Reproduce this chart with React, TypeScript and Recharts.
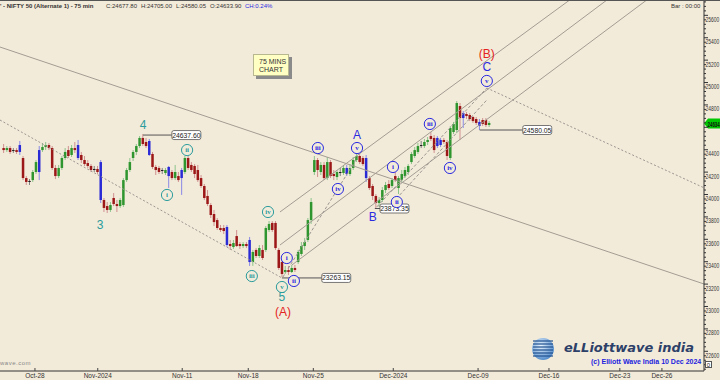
import React from 'react';
import { ComposedChart, Bar, XAxis, YAxis, ReferenceLine, ReferenceDot } from 'recharts';

// ---- 75-min OHLC bars (bar index 0 .. 150) ----
const opens = [
  24415, 24397, 24415, 24389, 24397, 24442, 24326, 24147, 24112, 24129,
  24201, 24201, 24397, 24424, 24442, 24415, 24237, 24165, 24237, 24326,
  24397, 24353, 24415, 24442, 24353, 24308, 24281, 24255, 24219, 24228,
  24290, 23951, 23897, 23862, 23969, 23915, 23897, 23906, 24129, 24219,
  24326, 24380, 24433, 24505, 24469, 24478, 24362, 24246, 24237, 24219,
  24192, 24246, 24201, 24147, 24165, 24219, 24201, 24326, 24264, 24255,
  24219, 24147, 24076, 23987, 23906, 23826, 23772, 23701, 23701, 23710,
  23558, 23531, 23629, 23558, 23540, 23558, 23594, 23397, 23505, 23451,
  23505, 23505, 23683, 23746, 23746, 23505, 23397, 23308, 23326, 23308,
  23344, 23397, 23469, 23540, 23594, 23772, 24201, 24308, 24201, 24264,
  24147, 24290, 24183, 24156, 24192, 24192, 24237, 24183, 24237, 24308,
  24344, 24326, 24326, 24147, 24076, 23987, 23924, 23951, 24040, 24094,
  24076, 24165, 24058, 24129, 24165, 24201, 24290, 24344, 24380, 24433,
  24433, 24469, 24522, 24505, 24505, 24487, 24487, 24469, 24326, 24558,
  24576, 24790, 24728, 24719, 24710, 24692, 24674, 24612, 24665, 24665,
  24621,
];
const highs = [
  24451, 24433, 24433, 24415, 24415, 24478, 24344, 24165, 24138, 24219,
  24308, 24433, 24460, 24469, 24460, 24433, 24264, 24264, 24344, 24415,
  24433, 24442, 24469, 24487, 24380, 24344, 24308, 24272, 24255, 24255,
  24308, 23969, 23933, 23933, 24013, 23951, 23969, 24147, 24237, 24326,
  24397, 24451, 24522, 24540, 24505, 24496, 24380, 24264, 24255, 24237,
  24237, 24255, 24219, 24264, 24201, 24237, 24344, 24344, 24290, 24272,
  24264, 24174, 24094, 24040, 23924, 23862, 23790, 23728, 23728, 23728,
  23594, 23594, 23683, 23576, 23576, 23576, 23621, 23505, 23522, 23549,
  23549, 23719, 23763, 23763, 23763, 23522, 23433, 23362, 23362, 23371,
  23371, 23505, 23576, 23612, 23790, 23969, 24344, 24326, 24290, 24290,
  24335, 24308, 24219, 24219, 24237, 24264, 24264, 24272, 24335, 24371,
  24362, 24344, 24353, 24165, 24094, 24004, 23978, 24067, 24112, 24129,
  24147, 24201, 24165, 24219, 24246, 24272, 24380, 24424, 24460, 24478,
  24496, 24514, 24558, 24531, 24522, 24505, 24505, 24487, 24612, 24648,
  24835, 24817, 24746, 24737, 24728, 24701, 24692, 24674, 24683, 24683,
  24656,
];
const lows = [
  24371, 24380, 24362, 24371, 24362, 24353, 24129, 24085, 24085, 24112,
  24183, 24129, 24380, 24397, 24397, 24219, 24138, 24147, 24219, 24308,
  24326, 24335, 24371, 24308, 24281, 24255, 24237, 24201, 24201, 24183,
  23924, 23844, 23835, 23844, 23897, 23844, 23880, 23889, 24112, 24201,
  24299, 24353, 24415, 24433, 24415, 24344, 24228, 24174, 24183, 24183,
  24174, 24058, 24129, 24129, 24112, 23996, 24183, 24219, 24201, 24147,
  24112, 24058, 23951, 23897, 23790, 23719, 23683, 23665, 23647, 23531,
  23505, 23514, 23531, 23514, 23522, 23522, 23362, 23362, 23433, 23433,
  23415, 23487, 23665, 23665, 23505, 23326, 23263, 23290, 23281, 23299,
  23308, 23380, 23451, 23505, 23576, 23737, 24174, 24156, 24174, 24129,
  24129, 24147, 24129, 24129, 24165, 24174, 24165, 24165, 24219, 24290,
  24272, 24255, 24112, 24040, 23951, 23871, 23889, 23933, 24013, 24040,
  24058, 24112, 24004, 24112, 24147, 24174, 24272, 24326, 24362, 24415,
  24415, 24442, 24478, 24371, 24415, 24424, 24451, 24308, 24308, 24540,
  24549, 24487, 24594, 24674, 24656, 24639, 24621, 24576, 24612, 24603,
  24603,
];
const closes = [
  24397, 24415, 24380, 24397, 24380, 24380, 24147, 24112, 24121, 24201,
  24290, 24397, 24424, 24442, 24415, 24237, 24165, 24237, 24326, 24380,
  24344, 24415, 24397, 24326, 24308, 24272, 24255, 24219, 24228, 24201,
  23951, 23880, 23862, 23906, 23915, 23897, 23951, 24129, 24219, 24290,
  24380, 24433, 24505, 24451, 24433, 24353, 24246, 24219, 24201, 24210,
  24219, 24165, 24147, 24201, 24129, 24147, 24326, 24237, 24219, 24183,
  24129, 24076, 23969, 23915, 23817, 23754, 23701, 23683, 23674, 23549,
  23540, 23567, 23540, 23540, 23558, 23540, 23397, 23487, 23451, 23522,
  23433, 23701, 23737, 23683, 23522, 23344, 23290, 23326, 23308, 23344,
  23326, 23487, 23540, 23576, 23772, 23933, 24308, 24219, 24264, 24147,
  24290, 24165, 24165, 24201, 24201, 24237, 24183, 24237, 24308, 24344,
  24290, 24272, 24147, 24058, 23987, 23924, 23951, 24040, 24085, 24058,
  24129, 24129, 24147, 24183, 24219, 24255, 24362, 24397, 24433, 24442,
  24469, 24487, 24496, 24397, 24433, 24442, 24469, 24344, 24594, 24630,
  24817, 24683, 24683, 24701, 24674, 24656, 24639, 24648, 24630, 24621,
  24639,
];
// bars the source software paints blue
const blueBars = [5, 11, 23, 30, 45, 51, 55, 69, 76, 106, 112, 134, 135, 142, 147];

// ---- axes ----
const xTickPos = [9.8, 29.2, 55.3, 75.7, 95.8, 120.5, 146.7, 168.6, 190.5, 203.5];
const xTickLabels = ['Oct-28', 'Nov-2024', 'Nov-11', 'Nov-18', 'Nov-25', 'Dec-2024', 'Dec-09', 'Dec-16', 'Dec-23', 'Dec-26'];
// 24600 sits under the last-price tag, as in the source
const yTickLabels = [22600, 22800, 23000, 23200, 23400, 23600, 23800, 24000, 24200, 24400, 24800, 25000, 25200, 25400, 25600];
const lastPrice = 24633.9;

// ---- annotations (bar index, price) ----
const plainLabels = [
  { t: '4', i: 43.2, p: 24621, c: 'teal' },
  { t: '3', i: 29.9, p: 23728, c: 'teal' },
  { t: '5', i: 86.1, p: 23085, c: 'teal' },
  { t: '(A)', i: 86.4, p: 22951, c: 'red' },
  { t: 'A', i: 109.3, p: 24540, c: 'blue' },
  { t: 'B', i: 114.2, p: 23808, c: 'blue' },
  { t: 'C', i: 149.4, p: 25139, c: 'blue' },
  { t: '(B)', i: 149.4, p: 25255, c: 'red' },
];
const circleLabels = [
  { t: 'i', i: 50.6, p: 23996, c: 'teal' },
  { t: 'ii', i: 56.8, p: 24397, c: 'teal' },
  { t: 'iii', i: 76.8, p: 23272, c: 'teal' },
  { t: 'iv', i: 81.8, p: 23844, c: 'teal' },
  { t: 'v', i: 86.1, p: 23174, c: 'teal' },
  { t: 'i', i: 87.6, p: 23433, c: 'blue' },
  { t: 'ii', i: 89.8, p: 23228, c: 'blue' },
  { t: 'iii', i: 97.2, p: 24415, c: 'blue' },
  { t: 'iv', i: 103.4, p: 24049, c: 'blue' },
  { t: 'v', i: 109.3, p: 24415, c: 'blue' },
  { t: 'i', i: 120.4, p: 24246, c: 'blue' },
  { t: 'ii', i: 121.6, p: 23933, c: 'blue' },
  { t: 'iii', i: 131.8, p: 24630, c: 'blue' },
  { t: 'iv', i: 138.0, p: 24237, c: 'blue' },
  { t: 'v', i: 149.4, p: 25014, c: 'blue' },
];
const trendLines = [
  { a: [85.5, 23844], b: [175.0, 25737], k: 'solid' },
  { a: [85.5, 23549], b: [186.5, 25737], k: 'solid' },
  { a: [89.2, 23371], b: [198.8, 25737], k: 'solid' },
  { a: [-1, 25317], b: [216.5, 23201], k: 'solid' },
  { a: [-1, 24665], b: [86.1, 23255], k: 'dot' },
  { a: [149.4, 24951], b: [216.5, 24060], k: 'dot' },
  { a: [86.4, 23263], b: [109.3, 24326], k: 'dash' },
  { a: [115.4, 23889], b: [149.4, 24951], k: 'dash' },
  { a: [122.5, 23996], b: [149.4, 24844], k: 'dash' },
];
const priceTags = [
  { t: '24637.60', a: 43.2, b: 52.1, p: 24531 },
  { t: '23263.15', a: 86.1, b: 98.4, p: 23255 },
  { t: '23873.35', a: 114.8, b: 116.4, p: 23875 },
  { t: '24580.05', a: 147.2, b: 160.5, p: 24576 },
];

const COLORS: Record<string, string> = { teal: '#2b9c9c', blue: '#2a2ae0', red: '#e32222' };
const FONT = '"Liberation Sans", Arial, sans-serif';

const data = opens.map((o, i) => ({
  i,
  o,
  h: highs[i],
  l: lows[i],
  c: closes[i],
  range: [lows[i], highs[i]],
}));

const Candle = (props: any) => {
  const { x, y, width, height, payload } = props;
  if (!payload || x == null) return null;
  const { o, h, l, c, i } = payload;
  const top = Math.min(y, y + height);
  const bot = Math.max(y, y + height);
  const span = h - l || 1;
  const py = (v: number) => top + ((h - v) / span) * (bot - top);
  const cx = x + width / 2;
  const d = c - o;
  let body = d > 0 ? '#2f962f' : '#9c1717';
  let wick = d > 0 ? '#8cc48c' : '#d09090';
  if (Math.abs(d) < 12) { body = '#1e1e1e'; wick = '#808080'; }
  if (blueBars.includes(i)) { body = '#2b2bd6'; wick = '#8a8ae6'; }
  const y1 = Math.min(py(o), py(c));
  const bh = Math.max(1, Math.abs(py(o) - py(c)));
  return (
    <g>
      <line x1={cx} x2={cx} y1={top} y2={bot} stroke={wick} strokeWidth={1} />
      <rect x={cx - 1.25} y={y1} width={2.5} height={bh} fill={body} />
    </g>
  );
};

const XTick = (props: any) => {
  const { x, y, payload } = props;
  const idx = xTickPos.indexOf(payload.value);
  return (
    <g>
      <line x1={x} x2={x} y1={y - 3} y2={y} stroke="#444" />
      <text x={x} y={y + 6.5} textAnchor="middle" fontSize={6.5} fontFamily={FONT} fill="#333">
        {xTickLabels[idx]}
      </text>
    </g>
  );
};

const YTick = (props: any) => {
  const { x, y, payload } = props;
  const v = payload.value;
  const major = v % 200 === 0;
  const labelled = yTickLabels.includes(v);
  return (
    <g>
      <line x1={x} x2={x + (major ? 4 : 2)} y1={y} y2={y} stroke="#333" />
      {labelled && (
        <text transform={`translate(${x + 1.5},${y + 6.5}) scale(0.66,1)`} fontSize={7.5} fontFamily={FONT} fill="#333">
          {v}
        </text>
      )}
    </g>
  );
};

const minorTicks: number[] = [];
for (let v = 22440; v <= 25720; v += 40) minorTicks.push(v);

const Globe = () => (
  <svg width={26} height={26} style={{ position: 'absolute', left: 530, top: 336 }}>
    <defs>
      <radialGradient id="gl" cx="40%" cy="35%" r="70%">
        <stop offset="0%" stopColor="#e8f4ff" />
        <stop offset="100%" stopColor="#4a86c8" />
      </radialGradient>
    </defs>
    <circle cx={13} cy={13} r={11} fill="url(#gl)" />
    {[5, 8, 11, 14, 17, 20].map((yy) => (
      <line key={yy} x1={3} x2={23} y1={yy} y2={yy} stroke="#1f4f8f" strokeWidth={1.2} />
    ))}
  </svg>
);

export default function App() {
  return (
    <div style={{ position: 'absolute', left: 0, top: 0, width: 720, height: 380, background: '#f3ebda', overflow: 'hidden', fontFamily: FONT }}>
      <ComposedChart width={720} height={380} data={data} margin={{ top: 0, right: 0, bottom: 0, left: 0 }}>
        <XAxis
          dataKey="i"
          type="number"
          domain={[-1, 216.5]}
          allowDataOverflow
          ticks={xTickPos}
          interval={0}
          height={9}
          tickSize={0}
          tickMargin={0}
          tickLine={false}
          axisLine={{ stroke: '#333' }}
          tick={<XTick />}
        />
        <YAxis
          orientation="right"
          type="number"
          domain={[22424, 25737]}
          allowDataOverflow
          ticks={minorTicks}
          interval={0}
          width={16}
          tickSize={0}
          tickMargin={0}
          tickLine={false}
          axisLine={{ stroke: '#333' }}
          tick={<YTick />}
        />
        {trendLines.map((l, k) => (
          <ReferenceLine
            key={'tl' + k}
            segment={[{ x: l.a[0], y: l.a[1] }, { x: l.b[0], y: l.b[1] }]}
            stroke={l.k === 'solid' ? '#a29c92' : '#9a9690'}
            strokeWidth={1}
            strokeDasharray={l.k === 'dot' ? '2 2' : l.k === 'dash' ? '3 2' : undefined}
            ifOverflow="visible"
          />
        ))}
        <Bar dataKey="range" barSize={2} isAnimationActive={false} shape={<Candle />} />
        {priceTags.map((t, k) => (
          <ReferenceLine
            key={'pl' + k}
            segment={[{ x: t.a, y: t.p }, { x: t.b, y: t.p }]}
            stroke="#555"
            strokeWidth={1}
            ifOverflow="visible"
          />
        ))}
        {priceTags.map((t, k) => (
          <ReferenceDot
            key={'pt' + k}
            x={t.b}
            y={t.p}
            r={1}
            ifOverflow="visible"
            shape={(p: any) => (
              <g>
                <rect x={p.cx} y={p.cy - 4.5} width={29} height={9} rx={2} fill="#fff" stroke="#555" strokeWidth={0.8} />
                <text x={p.cx + 14.5} y={p.cy + 2.5} textAnchor="middle" fontSize={6.8} fontFamily={FONT} fill="#222">
                  {t.t}
                </text>
              </g>
            )}
          />
        ))}
        {circleLabels.map((w, k) => (
          <ReferenceDot
            key={'cl' + k}
            x={w.i}
            y={w.p}
            r={1}
            ifOverflow="visible"
            shape={(p: any) => (
              <g>
                <circle cx={p.cx} cy={p.cy} r={5.6} fill="#f3ebda" stroke={COLORS[w.c]} strokeWidth={1} />
                <text x={p.cx} y={p.cy + 2.4} textAnchor="middle" fontSize={7} fontWeight="bold" fontFamily='"Liberation Serif", serif' fill={COLORS[w.c]}>
                  {w.t}
                </text>
              </g>
            )}
          />
        ))}
        {plainLabels.map((w, k) => (
          <ReferenceDot
            key={'pl2' + k}
            x={w.i}
            y={w.p}
            r={1}
            ifOverflow="visible"
            shape={(p: any) => (
              <text x={p.cx} y={p.cy + 4.5} textAnchor="middle" fontSize={12} fontFamily={FONT} fill={COLORS[w.c]}>
                {w.t}
              </text>
            )}
          />
        ))}
        <ReferenceDot
          x={216.5}
          y={lastPrice}
          r={1}
          ifOverflow="visible"
          shape={(p: any) => (
            <g>
              <polygon
                points={`${p.cx},${p.cy} ${p.cx + 4},${p.cy - 5} ${p.cx + 16},${p.cy - 5} ${p.cx + 16},${p.cy + 5} ${p.cx + 4},${p.cy + 5}`}
                fill="#00c800"
              />
              <text transform={`translate(${p.cx + 3.5},${p.cy + 3}) scale(0.55,1)`} fontSize={8} fontWeight="bold" fontFamily={FONT} fill="#111">
                {Math.round(lastPrice)}
              </text>
            </g>
          )}
        />
      </ComposedChart>

      {/* header */}
      <div style={{ position: 'absolute', left: 0, top: 0, width: 720, height: 1, background: '#555' }} />
      <div style={{ position: 'absolute', left: 0, top: 2, fontSize: 6, lineHeight: '8px', whiteSpace: 'nowrap', color: '#333' }}>
        <span style={{ position: 'absolute', left: 0, fontWeight: 'bold' }}>' - NIFTY 50 (Alternate 1) - 75 min</span>
        <span style={{ position: 'absolute', left: 106 }}>C:24677.80</span>
        <span style={{ position: 'absolute', left: 141 }}>H:24705.00</span>
        <span style={{ position: 'absolute', left: 176 }}>L:24580.05</span>
        <span style={{ position: 'absolute', left: 210 }}>O:24633.90</span>
        <span style={{ position: 'absolute', left: 245, color: '#2a2ae0' }}>CH:0.24%</span>
      </div>
      <div style={{ position: 'absolute', left: 671, top: 2, fontSize: 6, lineHeight: '8px', whiteSpace: 'nowrap', color: '#333' }}>
        Bar : 00:00
      </div>

      {/* chart caption */}
      <div
        style={{
          position: 'absolute', left: 253, top: 54, width: 36, height: 22, background: '#ffffc4',
          border: '1px solid #b8b890', boxShadow: '3px 3px 0 #8a8a8a', fontSize: 7, lineHeight: '8px',
          color: '#333', padding: '3px 0 0 5px', boxSizing: 'border-box',
        }}
      >
        75 MINS<br />CHART
      </div>

      {/* branding */}
      <Globe />
      <div style={{ position: 'absolute', left: 564, top: 340, fontSize: 13, fontWeight: 'bold', fontStyle: 'italic', color: '#2c4068', whiteSpace: 'nowrap', fontFamily: '"DejaVu Sans", sans-serif' }}>
        eLLiottwave india
      </div>
      <div style={{ position: 'absolute', left: 591, top: 358, fontSize: 7, fontWeight: 'bold', color: '#2222dd', whiteSpace: 'nowrap' }}>
        (c) Elliott Wave India 10 Dec 2024
      </div>
      <div style={{ position: 'absolute', left: 705, top: 361, width: 7, height: 7, border: '1px solid #555', background: '#fff', fontSize: 6, lineHeight: '7px', textAlign: 'center', color: '#222', boxSizing: 'border-box' }}>
        0
      </div>
      <div style={{ position: 'absolute', left: 0, top: 360, fontSize: 6, color: '#888', whiteSpace: 'nowrap', letterSpacing: 0.5 }}>
        wave.com
      </div>
    </div>
  );
}
